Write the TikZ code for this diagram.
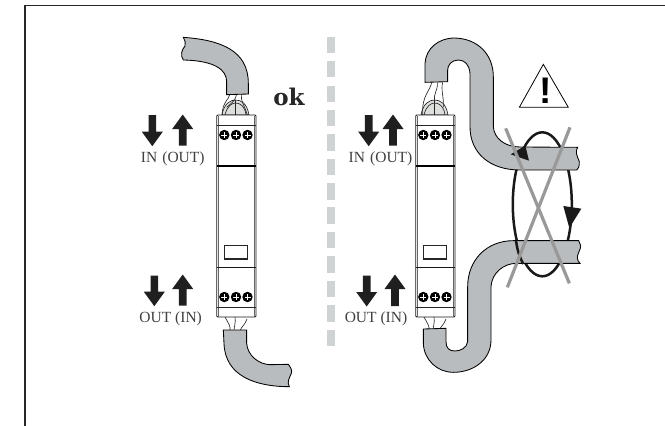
\documentclass[tikz,border=0pt]{standalone}
\usepackage{fontspec}
\setmainfont{Liberation Serif}
\newfontfamily\okfont{DejaVu Serif}
\newfontfamily\bangfont{Liberation Sans}
\definecolor{cablegray}{HTML}{B9BCBE}
\definecolor{dashgray}{HTML}{CFD3D3}
\definecolor{crossgray}{HTML}{999999}
\definecolor{domegray}{HTML}{DDDFDD}
\definecolor{labelgray}{HTML}{404040}
\tikzset{
  frameline/.style={draw=black!85,line width=1.5pt},
  cablebody/.style={draw=black,fill=cablegray,line width=0.85pt},
  thinline/.style={draw=black!85,line width=0.7pt},
  wireline/.style={draw=black!85,line width=0.65pt},
  bigarrow/.style={fill=black!88,draw=none},
  loopline/.style={draw=black!90,line width=2.5pt},
  crossline/.style={draw=crossgray,line width=3.2pt},
  sepdash/.style={fill=dashgray,draw=none},
  flowlabel/.style={text=labelgray,font=\fontsize{15.5}{15.5}\selectfont,inner sep=0pt},
}
\newcommand{\downarr}[3]{\fill[bigarrow] (#1-3.8,#2) -- (#1+3.8,#2) -- (#1+3.8,#3-14) -- (#1+10.5,#3-14) -- (#1,#3+0.5) -- (#1-10.5,#3-14) -- (#1-3.8,#3-14) -- cycle;}
\newcommand{\uparr}[3]{\fill[bigarrow] (#1-3.8,#3) -- (#1+3.8,#3) -- (#1+3.8,#2+14) -- (#1+10.5,#2+14) -- (#1,#2-0.5) -- (#1-10.5,#2+14) -- (#1-3.8,#2+14) -- cycle;}
\newcommand{\screwmark}[2]{%
  \fill[black] (#1,#2) circle (5.2);
  \draw[white,line width=0.6pt] (#1-3,#2) -- (#1+3,#2) (#1,#2-3) -- (#1,#2+3);}
\newcommand{\device}[1]{%
\begin{scope}[xshift=#1pt]
  \draw[wireline] (225,317) .. controls (228,323) and (231,326) .. (230,331);
  \draw[wireline] (235,317) .. controls (236,323) and (234,326) .. (234,331);
  \draw[wireline] (247,319) .. controls (245,325) and (241,327) .. (240,331);
  \draw[wireline,fill=domegray] (222,115) .. controls (224,103) and (231,100) .. (235.5,100) .. controls (241,100) and (247,103) .. (249,115) -- cycle;
  \draw[wireline] (225,115) .. controls (227,106) and (232,103) .. (235.5,103) .. controls (240,103) and (245,106) .. (246,115);
  \draw[wireline] (235.5,100) -- (235.5,115);
  \draw[draw=black!90,line width=0.9pt,fill=white,rounded corners=1pt] (216.7,115) rectangle (256,317);
  \draw[draw=black!60,line width=1.3pt] (218.4,115.5) -- (218.4,316.5) (254.3,115.5) -- (254.3,316.5);
  \draw[thinline] (216.7,125) -- (256,125);
  \draw[draw=black,line width=1.2pt] (216.7,166) -- (256,166);
  \draw[draw=black!90,line width=1pt] (216.7,267) -- (256,267);
  \draw[thinline] (216.7,307.7) -- (256,307.7);
  \draw[draw=black!85,line width=1.4pt] (224.3,245.7) rectangle (247.7,259);
  \screwmark{224.3}{135}\screwmark{236}{135}\screwmark{247.5}{135}
  \screwmark{224.3}{297}\screwmark{236}{297}\screwmark{247.5}{297}
\end{scope}}
\begin{document}
\begin{tikzpicture}[x=1pt,y=-1pt]
\useasboundingbox (0,0) rectangle (665,426);
\draw[frameline] (25,426) -- (25,5.3) -- (665,5.3);
\foreach \y in {36.7,61,85.7,110,134.3,158.7,183.3,207.3,232,256.3,281,305.3,329.7}
  \fill[sepdash] (327,\y) rectangle (335,\y+16.3);
\device{0}
\device{199}
% top wires, left device
\begin{scope}[shift={(130,20)},x=1/3*1pt,y=-1/3*1pt]
  \draw[wireline] (300,222) .. controls (296,240) and (278,245) .. (276,285);
  \draw[wireline] (320,222) .. controls (318,240) and (304,250) .. (290,262);
  \draw[wireline] (335,222) .. controls (330,240) and (345,260) .. (352,285);
  \path[cablebody] (160,52) .. controls (270,60) and (355,90) .. (355,190) -- (355,222) -- (290,224) -- (290,185)
     .. controls (290,150) and (255,122) .. (160,120) .. controls (150,105) and (155,90) .. (165,78) .. controls (168,70) and (165,60) .. (160,52) -- cycle;
\end{scope}
\begin{scope}[shift={(130,210)},x=1/3*1pt,y=-1/3*1pt]
  \path[cablebody] (280,360) -- (350,360) -- (350,400) .. controls (352,435) and (385,463) .. (420,464) -- (475,463)
     .. controls (480,470) and (488,480) .. (484,490) .. controls (478,505) and (470,515) .. (478,530)
     .. controls (380,530) and (285,500) .. (282,400) -- cycle;
\end{scope}
\draw[loopline] (542.3,204.3) ellipse [x radius=29.5,y radius=72];
% top wires and cable, right device
\begin{scope}[shift={(350,20)},x=1/3*1pt,y=-1/3*1pt]
  \draw[wireline] (245,187) .. controls (240,215) and (215,225) .. (218,285);
  \draw[wireline] (262,187) .. controls (265,210) and (248,225) .. (254,243);
  \draw[wireline] (278,187) .. controls (272,210) and (282,230) .. (280,262);
  \path[cablebody] (225,187) -- (225,130) .. controls (228,85) and (265,55) .. (312,54) .. controls (385,55) and (430,105) .. (430,170) -- (430,320)
     .. controls (432,355) and (465,381) .. (510,381) -- (683,382) .. controls (675,395) and (680,405) .. (688,425) .. controls (688,440) and (685,448) .. (680,450) -- (510,450)
     .. controls (420,450) and (360,400) .. (360,320) -- (360,160) .. controls (358,135) and (345,120) .. (325,120) .. controls (305,120) and (293,135) .. (293,150) -- (293,185) -- cycle;
\end{scope}
\begin{scope}[shift={(350,200)},x=1/3*1pt,y=-1/3*1pt]
  \path[cablebody] (686,122) -- (490,122) .. controls (410,122) and (353,180) .. (353,260) -- (353,425) .. controls (350,445) and (330,453) .. (315,453)
     .. controls (298,453) and (288,445) .. (288,425) -- (288,385) -- (220,387) -- (220,430) .. controls (222,480) and (262,517) .. (310,517)
     .. controls (370,517) and (423,480) .. (423,420) -- (423,260) .. controls (425,220) and (460,190) .. (500,190) -- (690,190)
     .. controls (680,180) and (680,170) .. (687,155) .. controls (695,140) and (692,130) .. (686,122) -- cycle;
\end{scope}
\begin{scope}[shift={(490,110)},x=1/3*1pt,y=-1/3*1pt]
  \draw[loopline] (78,392) .. controls (82,420) and (88,440) .. (100,462);
  \fill[black!90] (62,133) -- (106,107) -- (117,152) -- cycle;
  \fill[black!90] (220,288) -- (274,296) -- (238,354) -- cycle;
  \draw[crossline] (47,55) -- (238,520);
  \draw[crossline] (240,52) -- (52,532);
\end{scope}
\begin{scope}[shift={(350,20)},x=1/3*1pt,y=-1/3*1pt]
  \draw[draw=black,line width=0.8pt,line join=miter] (580,133) -- (655,262) -- (508,262) -- cycle;
  \node (bang) at (586,211) {\bangfont\bfseries\fontsize{37}{37}\selectfont !};
\end{scope}
\downarr{152.3}{115}{145.7}
\uparr{182.7}{115}{145.7}
\node[flowlabel] (inl) at (172.7,158.3) {IN\,\,(OUT)};
\downarr{154.3}{275.7}{305.7}
\uparr{182.7}{275}{305.7}
\node[flowlabel] (outl) at (170.7,318.3) {OUT (IN)};
\downarr{368.7}{115}{145.7}
\uparr{393}{115}{145.7}
\node[flowlabel] (inr) at (380.5,158.3) {IN\,\,(OUT)};
\downarr{366.7}{275.7}{306}
\uparr{395}{275}{306}
\node[flowlabel] (outr) at (376,319) {OUT (IN)};
\node[inner sep=0pt,text=black!85] (ok) at (289,97) {\okfont\bfseries\fontsize{23}{23}\selectfont ok};
\end{tikzpicture}
\end{document}
